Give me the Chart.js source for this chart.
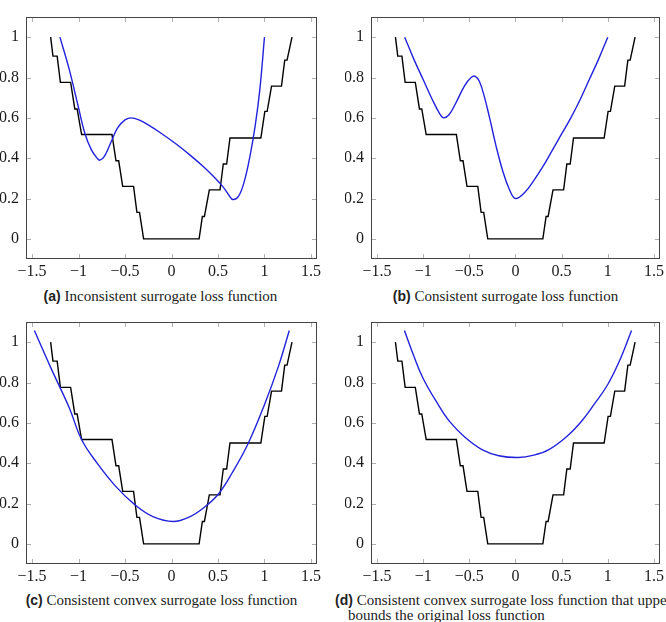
<!DOCTYPE html>
<html>
<head>
<meta charset="utf-8">
<script src="https://cdn.jsdelivr.net/npm/chart.js@4"></script>
<style>
html, body { margin: 0; padding: 0; overflow: hidden; background: #fff; }
body { width: 666px; height: 622px; position: relative; }
canvas { position: absolute; }
.cap { position: absolute; font-family: "Liberation Serif", serif; font-size: 15px; line-height: 16px; color: #222; white-space: nowrap; }
.cap b { font-family: "Liberation Sans", sans-serif; font-weight: bold; font-size: 14px; }
</style>
</head>
<body>
<canvas id="chartA" width="333" height="285" style="left:0px;top:0px"></canvas>
<canvas id="chartB" width="322" height="285" style="left:345px;top:0px"></canvas>
<canvas id="chartC" width="333" height="285" style="left:0px;top:305px"></canvas>
<canvas id="chartD" width="322" height="285" style="left:345px;top:305px"></canvas>

<div class="cap" style="left:0;width:321px;top:288px;text-align:center"><b>(a)</b> Inconsistent surrogate loss function</div>
<div class="cap" style="left:345px;width:321px;top:288px;text-align:center"><b>(b)</b> Consistent surrogate loss function</div>
<div class="cap" style="left:0;width:323px;top:592px;text-align:center"><b>(c)</b> Consistent convex surrogate loss function</div>
<div class="cap" style="left:335px;top:592px"><b>(d)</b> Consistent convex surrogate loss function that upper</div>
<div class="cap" style="left:348px;top:607px">bounds the original loss function</div>

<script>
const xTicks = [-1.5, -1, -0.5, 0, 0.5, 1, 1.5];
const yTicks = [0, 0.2, 0.4, 0.6, 0.8, 1];

// original (staircase) loss, same in all four panels
const stepX = [-1.300, -1.275, -1.230, -1.195, -1.085, -1.040, -1.015, -0.967, -0.640, -0.597, -0.568, -0.525, -0.408, -0.372, -0.344, -0.300,
               0.297, 0.332, 0.354, 0.407, 0.522, 0.557, 0.593, 0.629, 0.961, 1.004, 1.029, 1.076, 1.183, 1.218, 1.243, 1.296];
const stepY = [1.000, 0.906, 0.906, 0.776, 0.776, 0.644, 0.644, 0.517, 0.517, 0.387, 0.387, 0.260, 0.260, 0.131, 0.131, 0.000,
               0.000, 0.111, 0.111, 0.243, 0.243, 0.371, 0.371, 0.500, 0.500, 0.632, 0.632, 0.757, 0.757, 0.886, 0.886, 1.000];

// surrogate losses
const surAX = [-1.20, -1.10, -1.00, -0.93, -0.86, -0.80, -0.77, -0.72, -0.65, -0.58, -0.50, -0.43, -0.35, -0.25, -0.10, 0.05, 0.20, 0.35, 0.45, 0.55, 0.62, 0.66, 0.72, 0.78, 0.84, 0.90, 0.95, 1.00];
const surAY = [1.00, 0.84, 0.65, 0.52, 0.44, 0.40, 0.39, 0.41, 0.48, 0.55, 0.59, 0.60, 0.59, 0.565, 0.52, 0.47, 0.415, 0.355, 0.31, 0.26, 0.215, 0.195, 0.21, 0.28, 0.40, 0.56, 0.74, 1.00];

const surBX = [-1.20, -1.10, -1.00, -0.90, -0.82, -0.78, -0.72, -0.65, -0.55, -0.48, -0.435, -0.39, -0.34, -0.28, -0.21, -0.14, -0.07, 0.00, 0.10, 0.20, 0.30, 0.40, 0.50, 0.60, 0.70, 0.80, 0.90, 1.00];
const surBY = [1.00, 0.89, 0.79, 0.69, 0.62, 0.60, 0.615, 0.67, 0.76, 0.80, 0.806, 0.78, 0.71, 0.60, 0.46, 0.34, 0.25, 0.20, 0.23, 0.29, 0.36, 0.44, 0.52, 0.60, 0.69, 0.79, 0.89, 1.00];

const surCX = [-1.475, -1.30, -1.10, -0.966, -0.80, -0.60, -0.392, -0.20, 0.02, 0.20, 0.35, 0.503, 0.65, 0.826, 1.00, 1.15, 1.267];
const surCY = [1.058, 0.875, 0.675, 0.516, 0.40, 0.285, 0.193, 0.135, 0.111, 0.135, 0.18, 0.246, 0.35, 0.499, 0.69, 0.88, 1.058];

const surDX = [-1.203, -1.10, -1.00, -0.85, -0.714, -0.55, -0.357, -0.18, 0.03, 0.20, 0.357, 0.55, 0.714, 0.85, 1.00, 1.13, 1.258];
const surDY = [1.058, 0.93, 0.82, 0.70, 0.607, 0.53, 0.466, 0.437, 0.428, 0.44, 0.466, 0.53, 0.607, 0.69, 0.79, 0.91, 1.058];

const toPoints = (xs, ys) => xs.map((x, i) => ({ x: x, y: ys[i] }));
const fmt = v => String(v).replace('-', '\u2212');

// box around the plot and small inside ticks on all four sides
const framePlugin = {
    id: 'frame',
    beforeDatasetsDraw(chart) {
        const { ctx, chartArea: a, scales: { x, y } } = chart;
        ctx.save();
        ctx.strokeStyle = '#b0b0b0';
        ctx.lineWidth = 1;
        ctx.beginPath();
        x.ticks.forEach(t => {
            const px = Math.round(x.getPixelForValue(t.value)) + 0.5;
            ctx.moveTo(px, a.top); ctx.lineTo(px, a.top + 5);
            ctx.moveTo(px, a.bottom); ctx.lineTo(px, a.bottom - 5);
        });
        y.ticks.forEach(t => {
            const py = Math.round(y.getPixelForValue(t.value)) + 0.5;
            ctx.moveTo(a.left, py); ctx.lineTo(a.left + 5, py);
            ctx.moveTo(a.right, py); ctx.lineTo(a.right - 5, py);
        });
        ctx.stroke();
        ctx.restore();
    },
    afterDatasetsDraw(chart) {
        const { ctx, chartArea: a } = chart;
        ctx.save();
        ctx.strokeStyle = '#444';
        ctx.lineWidth = 1;
        ctx.strokeRect(Math.round(a.left) + 0.5, Math.round(a.top) + 0.5, Math.round(a.width) - 1, Math.round(a.height) - 1);
        ctx.restore();
    }
};

function makeChart(id, surX, surY, padRight) {
    const tickFont = { family: 'Liberation Serif', size: 16 };
    new Chart(document.getElementById(id), {
        type: 'line',
        data: {
            datasets: [{
                data: toPoints(surX, surY),
                borderColor: '#2222dd',
                borderWidth: 1.4,
                pointRadius: 0,
                tension: 0.4
            }, {
                data: toPoints(stepX, stepY),
                borderColor: '#000',
                borderWidth: 1.4,
                pointRadius: 0,
                tension: 0
            }]
        },
        options: {
            responsive: false,
            animation: false,
            devicePixelRatio: 1,
            layout: { padding: { top: 17, right: padRight, left: 0, bottom: 0 } },
            plugins: { legend: { display: false }, tooltip: { enabled: false } },
            scales: {
                x: {
                    type: 'linear',
                    min: -1.565,
                    max: 1.565,
                    afterBuildTicks: s => { s.ticks = xTicks.map(v => ({ value: v })); },
                    afterFit: s => { s.height = 26; },
                    grid: { display: false, drawTicks: false },
                    border: { display: false },
                    ticks: { font: tickFont, color: '#1a1a1a', padding: 3, maxRotation: 0, autoSkip: false, callback: v => fmt(v) }
                },
                y: {
                    min: -0.1,
                    max: 1.1,
                    afterBuildTicks: s => { s.ticks = yTicks.map(v => ({ value: v })); },
                    afterFit: s => { s.width = 26; },
                    grid: { display: false, drawTicks: false },
                    border: { display: false },
                    ticks: { font: tickFont, color: '#1a1a1a', padding: 7, autoSkip: false, callback: v => fmt(v) }
                }
            }
        },
        plugins: [framePlugin]
    });
}

makeChart('chartA', surAX, surAY, 16);
makeChart('chartB', surBX, surBY, 5);
makeChart('chartC', surCX, surCY, 16);
makeChart('chartD', surDX, surDY, 5);
</script>
</body>
</html>
